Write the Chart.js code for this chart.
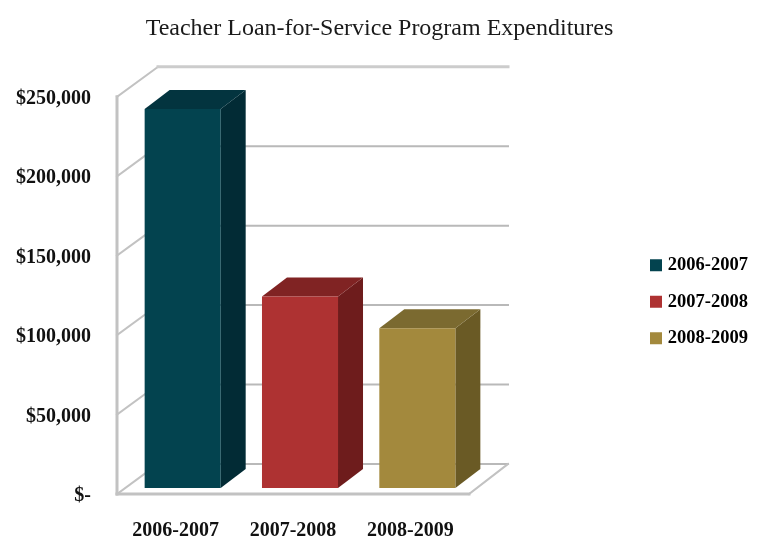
<!DOCTYPE html>
<html>
<head>
<meta charset="utf-8">
<title>Teacher Loan-for-Service Program Expenditures</title>
<style>
  html, body { margin: 0; background: #fff; }
  canvas { display: block; }
</style>
<script src="https://cdn.jsdelivr.net/npm/chart.js@4/dist/chart.umd.min.js"></script>
</head>
<body>
<canvas id="chart" width="759" height="540"></canvas>
<script>
const categories = ['2006-2007', '2007-2008', '2008-2009'];
const expenditures = [238500, 120500, 100500];
const tickValues = [0, 50000, 100000, 150000, 200000, 250000];

const frontColors = ['#03434f', '#ae3232', '#a3893d'];
const topColors = ['#03343f', '#802323', '#7b6a30'];
const sideColors = ['#022b35', '#6e1c1c', '#6a5a25'];

const serif = '"Liberation Serif", serif';

// the wall and floor of the fake 3d box
const wallDepth = { x: 41, y: -30 };
const wallRight = 508;
// bars stand a little way into the floor, their sides are shallower than the box
const barInset = { x: 7, y: -6 };
const barDepth = { x: 25, y: -19 };

function polygon(ctx, pts, color) {
  ctx.fillStyle = color;
  ctx.beginPath();
  pts.forEach((p, i) => (i ? ctx.lineTo(p[0], p[1]) : ctx.moveTo(p[0], p[1])));
  ctx.closePath();
  ctx.fill();
}

function line(ctx, x1, y1, x2, y2, width, color) {
  ctx.strokeStyle = color;
  ctx.lineWidth = width;
  ctx.beginPath();
  ctx.moveTo(x1, y1);
  ctx.lineTo(x2, y2);
  ctx.stroke();
}

const box3d = {
  id: 'box3d',
  beforeLayout(chart) {
    // keep the legend column wide so the plot ends where the back wall needs it
    const legend = chart.legend;
    if (legend.fitWrapped) return;
    const fit = legend.fit;
    legend.fit = function () {
      fit.call(this);
      this.width = 290;
    };
    legend.fitWrapped = true;
  },
  afterLayout(chart) {
    const legend = chart.legend;
    const pad = legend.options.labels.padding;
    legend.left = 650 - pad;
    legend.right = 748;
    legend.top = 256 - pad;
    legend.bottom = legend.top + legend.height;
  },
  beforeDatasetsDraw(chart) {
    const { ctx, scales } = chart;
    const y = scales.y;
    const area = chart.chartArea;
    const dx = wallDepth.x, dy = wallDepth.y;
    const gray = '#c2c2c2';

    ctx.save();
    ctx.lineCap = 'square';
    tickValues.forEach(v => {
      const py = y.getPixelForValue(v);
      const top = v === tickValues[tickValues.length - 1];
      line(ctx, area.left, py, area.left + dx, py + dy, 2, gray);
      line(ctx, area.left + dx, py + dy, wallRight, py + dy, top ? 3 : 2, top ? '#cccccc' : '#b9b9b9');
    });
    line(ctx, area.left, y.getPixelForValue(tickValues[tickValues.length - 1]), area.left, area.bottom, 3, gray);
    line(ctx, area.left, area.bottom, area.right, area.bottom, 3, gray);
    line(ctx, area.right, area.bottom, wallRight, area.bottom + dy, 2, gray);
    ctx.restore();

    // top and side faces come from the bar elements themselves
    ctx.save();
    ctx.translate(barInset.x, barInset.y);
    chart.getDatasetMeta(0).data.forEach((bar, i) => {
      const l = bar.x - bar.width / 2;
      const r = bar.x + bar.width / 2;
      polygon(ctx, [[r, bar.y], [r + barDepth.x, bar.y + barDepth.y], [r + barDepth.x, bar.base + barDepth.y], [r, bar.base]], sideColors[i]);
      polygon(ctx, [[l, bar.y], [l + barDepth.x, bar.y + barDepth.y], [r + barDepth.x, bar.y + barDepth.y], [r, bar.y]], topColors[i]);
    });
    ctx.restore();

    // front faces are drawn by the library, shifted with the rest of the bar
    ctx.save();
    ctx.translate(barInset.x, barInset.y);
  },
  afterDatasetsDraw(chart) {
    chart.ctx.restore();
  }
};

new Chart(document.getElementById('chart'), {
  type: 'bar',
  data: {
    labels: categories,
    datasets: [{
      data: expenditures,
      backgroundColor: frontColors,
      borderWidth: 0,
      barPercentage: 0.648,
      categoryPercentage: 1,
      clip: false
    }]
  },
  options: {
    responsive: false,
    animation: false,
    layout: { padding: 0 },
    plugins: {
      tooltip: { enabled: false },
      title: {
        display: true,
        text: 'Teacher Loan-for-Service Program Expenditures',
        color: '#1a1a1a',
        font: { family: serif, size: 24, weight: 'normal' },
        padding: { top: 14, bottom: 54 }
      },
      legend: {
        position: 'right',
        align: 'start',
        onClick: null,
        labels: {
          boxWidth: 12,
          boxHeight: 12,
          padding: 18,
          color: '#111',
          textAlign: 'right',
          font: { family: serif, size: 18.5, weight: 'bold' },
          generateLabels: () => categories.map((c, i) => ({
            text: c,
            fillStyle: frontColors[i],
            strokeStyle: frontColors[i],
            lineWidth: 0,
            textAlign: 'right',
            datasetIndex: 0,
            index: i
          }))
        }
      }
    },
    scales: {
      x: {
        grid: { display: false },
        border: { display: false },
        afterFit(scale) { scale.height = 46; },
        ticks: {
          padding: 17,
          color: '#111',
          maxRotation: 0,
          font: { family: serif, size: 20, weight: 'bold' }
        }
      },
      y: {
        min: 0,
        max: 250000,
        grid: { display: false },
        border: { display: false },
        afterFit(scale) { scale.width = 117; },
        afterBuildTicks(scale) { scale.ticks = tickValues.map(v => ({ value: v })); },
        ticks: {
          padding: 18,
          labelOffset: 2,
          color: '#111',
          font: { family: serif, size: 20, weight: 'bold' },
          callback: v => (v === 0 ? '$-' : '$' + v.toLocaleString('en-US'))
        }
      }
    }
  },
  plugins: [box3d]
});
</script>
</body>
</html>
